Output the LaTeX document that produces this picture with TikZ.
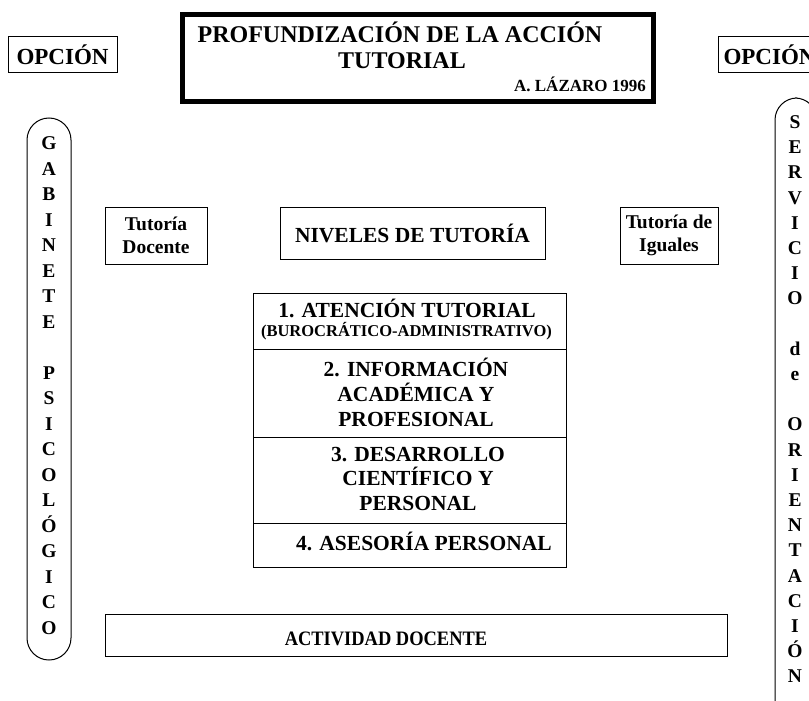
\documentclass[tikz,border=0pt]{standalone}
\usepackage{fontspec}
\setmainfont{Liberation Serif}
\newfontfamily\estrecha{Liberation Serif}[FakeStretch=0.9]
\tikzset{
  caja/.style={draw, line width=1pt},
  titulo/.style={font=\bfseries\fontsize{24}{28}\selectfont, anchor=base},
  nivel/.style={font=\bfseries\fontsize{21.5}{25}\selectfont, anchor=base},
  letra/.style={font=\bfseries\fontsize{19.5}{22}\selectfont, anchor=base, inner sep=0pt},
}
\begin{document}
\begin{tikzpicture}[x=1pt,y=-1pt]
\clip (0,0) rectangle (809,701);

% title
\draw[line width=5pt] (182.5,14.5) rectangle (653.5,101.5);
\node[titulo] (tit1) at (400,43) {PROFUNDIZACIÓN DE LA ACCIÓN};
\node[titulo] (tit2) at (402,69) {TUTORIAL};
\node[anchor=base, font=\bfseries\fontsize{17}{20}\selectfont] (autor) at (580,92) {A. LÁZARO 1996};

% options
\node[caja, minimum width=109pt, minimum height=36pt, font=\bfseries\fontsize{23}{26}\selectfont] (opc1) at (62.5,55) {OPCIÓN};
\node[caja, anchor=west, minimum height=36pt, inner xsep=5pt, font=\bfseries\fontsize{23}{26}\selectfont] (opc2) at (718,55) {OPCIÓN};

% side columns
\draw[line width=1pt, rounded corners=22pt] (27,118) rectangle (71,660);
\foreach \l [count=\i from 0] in {G,A,B,I,N,E,T,E,{},P,S,I,C,O,L,Ó,G,I,C,O}
  \node[letra] (gab\i) at (49,149.5+25.5*\i) {\l};
\draw[line width=1pt, rounded corners=22pt] (775,98) rectangle (817,730);
\foreach \l [count=\i from 0] in {S,E,R,V,I,C,I,O,{},d,e,{},O,R,I,E,N,T,A,C,I,Ó,N}
  \node[letra] (ser\i) at (795,128.5+25.2*\i) {\l};

% tutoring types
\node[caja, align=center, minimum width=102pt, minimum height=57pt, font=\bfseries\fontsize{19.5}{23}\selectfont] (tdoc) at (156,235.5) {Tutoría\\Docente};
\node[caja, minimum width=265pt, minimum height=52pt, font=\bfseries\fontsize{21.5}{25}\selectfont] (niv) at (412.5,233) {NIVELES DE TUTORÍA};
\node[caja, align=center, minimum width=98pt, minimum height=57pt, font=\bfseries\fontsize{19.5}{23}\selectfont] (tig) at (669,235.5) {Tutoría de\\Iguales};

% levels
\draw[caja] (253,293) rectangle (566,567);
\foreach \y in {349,437,523}
  \draw[line width=1pt] (253,\y) -- (566,\y);
\node[nivel] (n1a) at (407,317) {1. ATENCIÓN TUTORIAL};
\node[anchor=base, font=\bfseries\fontsize{16.5}{19}\selectfont] (n1b) at (406.5,336) {(BUROCRÁTICO-ADMINISTRATIVO)};
\node[nivel] (n2a) at (416,376) {2. INFORMACIÓN};
\node[nivel] (n2b) at (416,401) {ACADÉMICA Y};
\node[nivel] (n2c) at (416,426) {PROFESIONAL};
\node[nivel] (n3a) at (418,461) {3. DESARROLLO};
\node[nivel] (n3b) at (418,485) {CIENTÍFICO Y};
\node[nivel] (n3c) at (418,510) {PERSONAL};
\node[nivel] (n4) at (424,550) {4. ASESORÍA PERSONAL};

% teaching
\draw[caja] (105,614) rectangle (727,656);
\node[font=\estrecha\bfseries\fontsize{20.5}{24}\selectfont, anchor=base] (act) at (386,645) {ACTIVIDAD DOCENTE};
\end{tikzpicture}
\end{document}
